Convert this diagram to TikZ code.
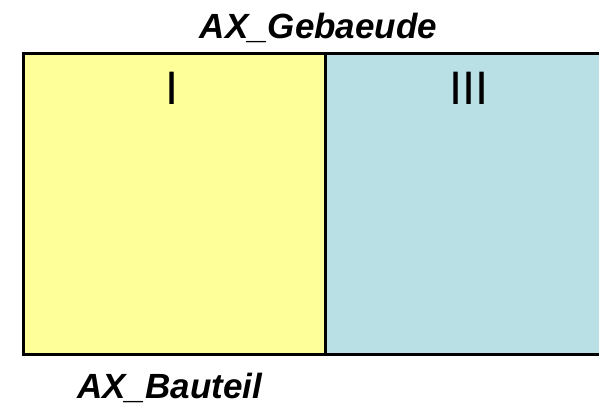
\documentclass[tikz,border=0pt]{standalone}
\usepackage{fontspec}
\setmainfont{Liberation Sans}
\usepackage{tikz}
\definecolor{gelb}{RGB}{255,255,153}
\definecolor{tuerkis}{RGB}{185,224,228}
\tikzset{
	panel/.style={draw=black,line width=3pt,anchor=north west,inner sep=0pt},
	roemisch/.style={anchor=north,inner sep=0pt,font=\fontsize{47}{50}\selectfont},
	klasse/.style={inner sep=0pt,font=\fontsize{35}{40}\selectfont\bfseries\itshape}
}

\begin{document}
\begin{tikzpicture}[x=1pt,y=-1pt]
	\useasboundingbox (0,0) rectangle (599,404);
	\clip (0,0) rectangle (599,404);
	\node (teil1) at(21.5,52) [panel,fill=gelb,minimum width=302.5pt,minimum height=301pt]{};
	\node (teil3) at(324,52) [panel,fill=tuerkis,minimum width=300pt,minimum height=301pt]{};
	\node (n1) at(172,72) [roemisch]{I};
	\node (n3) at(469,72) [roemisch]{III};
	\node (gebaeude) at(318.5,38) [klasse,anchor=base]{AX\_Gebaeude};
	\node (bauteil) at(77,398) [klasse,anchor=base west]{AX\_Bauteil};
\end{tikzpicture}
\end{document}
